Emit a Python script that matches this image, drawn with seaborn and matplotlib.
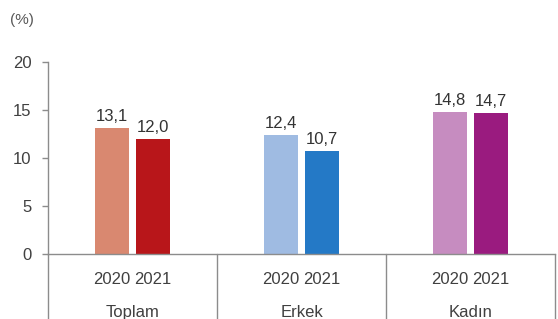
import matplotlib
matplotlib.use("Agg")
import matplotlib.pyplot as plt
import matplotlib.transforms as mtransforms
import pandas as pd
import seaborn as sns

groups = ["Toplam", "Erkek", "Kadın"]
years = ["2020", "2021"]
values_2020 = [13.1, 12.4, 14.8]
values_2021 = [12.0, 10.7, 14.7]

colors_2020 = ["#D98870", "#9FBBE2", "#C68CC0"]
colors_2021 = ["#B8161A", "#2479C6", "#9A1B7F"]

df = pd.DataFrame({
    "grup": groups * 2,
    "yil": [years[0]] * len(groups) + [years[1]] * len(groups),
    "oran": values_2020 + values_2021,
})

sns.set_theme(style="white")
plt.rcParams["font.family"] = ["Liberation Sans", "DejaVu Sans"]

gray = "#8C8C8C"
text_col = "#404040"

fig = plt.figure(figsize=(5.58, 3.19), dpi=100)
ax = fig.add_axes([48 / 558, 1 - 254 / 319, 507 / 558, 192 / 319])

sns.barplot(data=df, x="grup", y="oran", hue="yil", order=groups, hue_order=years,
            width=0.48, gap=0.16, errorbar=None, legend=False, ax=ax)

for patch, c in zip(ax.patches, colors_2020 + colors_2021):
    patch.set_facecolor(c)
    patch.set_edgecolor("none")

for cont in ax.containers:
    labels = [f"{b.get_height():.1f}".replace(".", ",") for b in cont]
    ax.bar_label(cont, labels=labels, padding=3, fontsize=12, color="#333333")

# year labels under each bar, group names below them
centers = [p.get_x() + p.get_width() / 2 for p in ax.patches]
year_labels = [years[0]] * len(groups) + [years[1]] * len(groups)
ax.set_xticks(centers, labels=year_labels, minor=True)
ax.set_xticks(range(len(groups)), labels=groups)
ax.tick_params(axis="x", which="minor", length=0, pad=13, labelsize=12, labelcolor=text_col)
ax.tick_params(axis="x", which="major", length=0, pad=37, labelsize=12, labelcolor=text_col)

ax.set_xlim(-0.5, len(groups) - 0.5)
ax.set_ylim(0, 20)
ax.set_yticks([0, 5, 10, 15, 20])
ax.tick_params(axis="y", left=True, length=4, width=1, color=gray, direction="out",
               pad=8, labelsize=12, labelcolor=text_col)
ax.set_xlabel("")
ax.set_ylabel("")

sns.despine(ax=ax, top=True, right=True)
for s in ["left", "bottom"]:
    ax.spines[s].set_color(gray)
    ax.spines[s].set_linewidth(1)

trans = mtransforms.blended_transform_factory(ax.transData, ax.transAxes)
for x in [i - 0.5 for i in range(len(groups) + 1)]:
    ax.plot([x, x], [0, -0.36], transform=trans, color=gray, lw=1, clip_on=False)

fig.text(10 / 558, 1 - 20 / 319, "(%)", fontsize=11, color="#595959", va="center")

fig.savefig("out.png", dpi=100)
